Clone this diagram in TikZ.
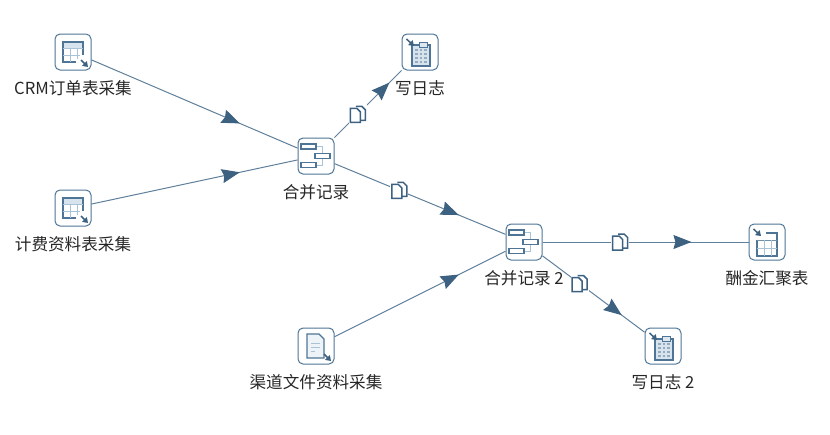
\documentclass[tikz,border=0pt]{standalone}
\usepackage{fontspec}
\setmainfont{Noto Sans CJK SC}
\usetikzlibrary{arrows.meta,decorations.markings}
\definecolor{edgeblue}{HTML}{5F7F9A}
\definecolor{tipblue}{HTML}{3D6180}
\definecolor{boxblue}{HTML}{4E7596}
\definecolor{paleblue}{HTML}{A9C3D6}
\def\arrowout{\draw[tipblue,line width=1.5pt,-{Triangle[length=5pt,width=6.5pt]}] (8,8) -- (15,15);}
\def\arrowin{\draw[tipblue,line width=1.5pt,-{Triangle[length=5pt,width=6.5pt]}] (-13.5,-13) -- (-6,-6);}
\def\sourcetable{%
    \tikzset{sharp corners}
    \fill[paleblue!45] (-10,-10) rectangle (10,-4);
    \draw[boxblue,line width=1.2pt] (3,10) -- (-10,10) -- (-10,-10) -- (10,-10) -- (10,3);
    \draw[paleblue] (-10,-4) -- (10,-4) (-10,3) -- (7,3) (-3,-4) -- (-3,10) (4,-4) -- (4,7);
    \arrowout}
\def\targettable{%
    \tikzset{sharp corners}
    \draw[boxblue,line width=1.2pt] (-1,-9) -- (10,-9) -- (10,14) -- (-10,14) -- (-10,-2);
    \draw[boxblue!80] (-10,-2) -- (10,-2);
    \draw[paleblue] (-10,6) -- (10,6) (-3,-2) -- (-3,14) (4,-2) -- (4,14);
    \arrowin}
\def\mergeglyph{%
    \tikzset{sharp corners}
    \draw[paleblue] (0,-9.5) -- (6,-9.5) -- (6,9) -- (0,9);
    \draw[boxblue,fill=white,line width=1.2pt] (-15,-12) rectangle (0,-7) (-15,6.5) rectangle (0,11.5) (-1,-2.5) rectangle (14,2.5);}
\def\logglyph{%
    \tikzset{sharp corners}
    \fill[paleblue!45] (-8,-7) rectangle (10,14);
    \draw[boxblue,line width=1.2pt] (-1,-7) -- (-8,-7) -- (-8,14) -- (10,14) -- (10,-7) -- (7,-7);
    \draw[boxblue,fill=paleblue!40] (-1,-10) rectangle (7,-5);
    \foreach \gy in {-2,2,6,10} \draw[boxblue!60,line width=1.2pt,dash pattern=on 2.5pt off 2pt] (-5,\gy) -- (8,\gy);
    \arrowin}
\def\fileglyph{%
    \tikzset{sharp corners}
    \draw[boxblue,line width=1.2pt,fill=paleblue!20] (3,-12) -- (-9,-12) -- (-9,12) -- (8,12) -- (8,-7) -- cycle;
    \draw[paleblue,line width=1pt] (-5,-3) -- (4,-3) (-5,1) -- (4,1) (-5,5) -- (-1,5);
    \arrowout}
\tikzset{
    stepbox/.style={draw=boxblue,fill=white,line width=1pt,rounded corners=5pt,minimum size=36pt,inner sep=0pt},
    caption/.style={font=\fontsize{16.6}{16.6}\selectfont,inner sep=0pt,text=black!85},
    hop/.style={fill=white,minimum width=18pt,minimum height=20pt,inner sep=0pt,path picture={
        \draw[tipblue,line width=1.5pt,fill=white] (-2,-8) -- (4,-8) -- (7.5,-4.5) -- (7.5,6) -- (1,6);
        \draw[tipblue,line width=1.5pt,fill=white] (-7.5,-6) -- (-1,-6) -- (2.5,-2.5) -- (2.5,8) -- (-7.5,8) -- cycle;}},
    flow/.style={edgeblue,line width=1pt,postaction={decorate},decoration={markings,
        mark=at position #1 with {\arrow{Stealth[length=18pt,width=14pt,inset=2pt,fill=tipblue,color=tipblue]}}}}
}
\begin{document}
\begin{tikzpicture}[x=1pt,y=-1pt,node distance=36pt]
    \useasboundingbox (0,0) rectangle (830,434);

    \node[stepbox,path picture={\sourcetable}] (CRM) at (73,52) {};
    \node[caption,below of=CRM] (CRMtext) {CRM订单表采集};
    \node[stepbox,path picture={\sourcetable}] (Fee) at (73,208) {};
    \node[caption,below of=Fee] (Feetext) {计费资料表采集};
    \node[stepbox,path picture={\fileglyph}] (File) at (316,346) {};
    \node[caption,below of=File] (Filetext) {渠道文件资料采集};

    \node[stepbox,path picture={\mergeglyph}] (MergeA) at (316,156) {};
    \node[caption,below of=MergeA] (MergeAtext) {合并记录};
    \node[stepbox,path picture={\mergeglyph}] (MergeB) at (524,242) {};
    \node[caption,below of=MergeB] (MergeBtext) {合并记录 2};

    \node[stepbox,path picture={\logglyph}] (LogA) at (420,52) {};
    \node[caption,below of=LogA] (LogAtext) {写日志};
    \node[stepbox,path picture={\logglyph}] (LogB) at (663,346) {};
    \node[caption,below of=LogB] (LogBtext) {写日志 2};
    \node[stepbox,path picture={\targettable}] (Pay) at (767,242) {};
    \node[caption,below of=Pay] (Paytext) {酬金汇聚表};

    \draw[flow=.72] (CRM) to (MergeA);
    \draw[flow=.72] (Fee) to (MergeA);
    \draw[flow=.727] (File) to (MergeB);
    \draw[flow=.82] (MergeA) to node[pos=.347,hop] (HopA) {} (LogA);
    \draw[flow=.727] (MergeA) to node[pos=.379,hop] (HopB) {} (MergeB);
    \draw[flow=.723] (MergeB) to node[pos=.377,hop] (HopC) {} (Pay);
    \draw[flow=.777] (MergeB) to node[pos=.365,hop] (HopD) {} (LogB);

\end{tikzpicture}
\end{document}
